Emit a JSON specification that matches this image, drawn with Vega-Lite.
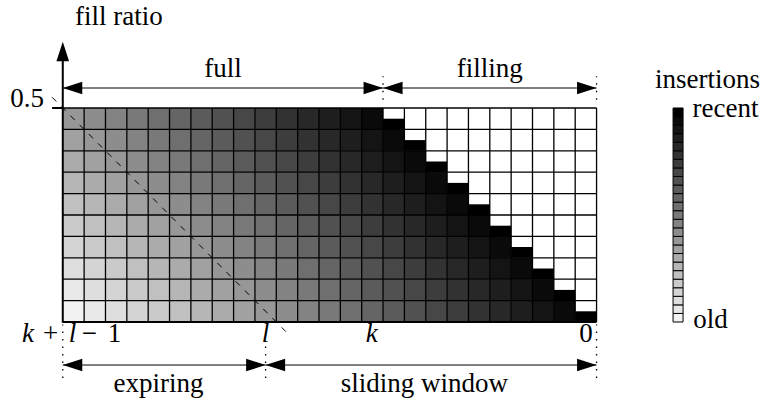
{
"$schema": "https://vega.github.io/schema/vega-lite/v6.json",
"width": 768, "height": 405, "padding": 0,
"autosize": {"type": "fit", "contains": "padding"},
"background": "white",
"config": {"view": {"stroke": null}, "axis": {"disable": true}, "legend": {"disable": true}},
"datasets": {
"cells": [
{"x":25,"x2":24,"y":0,"y2":0.05,"age":0},{"x":24,"x2":23,"y":0,"y2":0.05,"age":1},{"x":23,"x2":22,"y":0,"y2":0.05,"age":2},{"x":22,"x2":21,"y":0,"y2":0.05,"age":3},{"x":21,"x2":20,"y":0,"y2":0.05,"age":4},{"x":20,"x2":19,"y":0,"y2":0.05,"age":5},{"x":19,"x2":18,"y":0,"y2":0.05,"age":6},{"x":18,"x2":17,"y":0,"y2":0.05,"age":7},{"x":17,"x2":16,"y":0,"y2":0.05,"age":8},{"x":16,"x2":15,"y":0,"y2":0.05,"age":9},{"x":15,"x2":14,"y":0,"y2":0.05,"age":10},{"x":14,"x2":13,"y":0,"y2":0.05,"age":11},{"x":13,"x2":12,"y":0,"y2":0.05,"age":12},{"x":12,"x2":11,"y":0,"y2":0.05,"age":13},{"x":11,"x2":10,"y":0,"y2":0.05,"age":14},{"x":10,"x2":9,"y":0,"y2":0.05,"age":15},{"x":9,"x2":8,"y":0,"y2":0.05,"age":16},{"x":8,"x2":7,"y":0,"y2":0.05,"age":17},{"x":7,"x2":6,"y":0,"y2":0.05,"age":18},{"x":6,"x2":5,"y":0,"y2":0.05,"age":19},{"x":5,"x2":4,"y":0,"y2":0.05,"age":20},{"x":4,"x2":3,"y":0,"y2":0.05,"age":21},{"x":3,"x2":2,"y":0,"y2":0.05,"age":22},{"x":2,"x2":1,"y":0,"y2":0.05,"age":23},{"x":1,"x2":0,"y":0,"y2":0.025,"age":24},
{"x":25,"x2":24,"y":0.05,"y2":0.1,"age":1},{"x":24,"x2":23,"y":0.05,"y2":0.1,"age":2},{"x":23,"x2":22,"y":0.05,"y2":0.1,"age":3},{"x":22,"x2":21,"y":0.05,"y2":0.1,"age":4},{"x":21,"x2":20,"y":0.05,"y2":0.1,"age":5},{"x":20,"x2":19,"y":0.05,"y2":0.1,"age":6},{"x":19,"x2":18,"y":0.05,"y2":0.1,"age":7},{"x":18,"x2":17,"y":0.05,"y2":0.1,"age":8},{"x":17,"x2":16,"y":0.05,"y2":0.1,"age":9},{"x":16,"x2":15,"y":0.05,"y2":0.1,"age":10},{"x":15,"x2":14,"y":0.05,"y2":0.1,"age":11},{"x":14,"x2":13,"y":0.05,"y2":0.1,"age":12},{"x":13,"x2":12,"y":0.05,"y2":0.1,"age":13},{"x":12,"x2":11,"y":0.05,"y2":0.1,"age":14},{"x":11,"x2":10,"y":0.05,"y2":0.1,"age":15},{"x":10,"x2":9,"y":0.05,"y2":0.1,"age":16},{"x":9,"x2":8,"y":0.05,"y2":0.1,"age":17},{"x":8,"x2":7,"y":0.05,"y2":0.1,"age":18},{"x":7,"x2":6,"y":0.05,"y2":0.1,"age":19},{"x":6,"x2":5,"y":0.05,"y2":0.1,"age":20},{"x":5,"x2":4,"y":0.05,"y2":0.1,"age":21},{"x":4,"x2":3,"y":0.05,"y2":0.1,"age":22},{"x":3,"x2":2,"y":0.05,"y2":0.1,"age":23},{"x":2,"x2":1,"y":0.05,"y2":0.075,"age":24},
{"x":25,"x2":24,"y":0.1,"y2":0.15,"age":2},{"x":24,"x2":23,"y":0.1,"y2":0.15,"age":3},{"x":23,"x2":22,"y":0.1,"y2":0.15,"age":4},{"x":22,"x2":21,"y":0.1,"y2":0.15,"age":5},{"x":21,"x2":20,"y":0.1,"y2":0.15,"age":6},{"x":20,"x2":19,"y":0.1,"y2":0.15,"age":7},{"x":19,"x2":18,"y":0.1,"y2":0.15,"age":8},{"x":18,"x2":17,"y":0.1,"y2":0.15,"age":9},{"x":17,"x2":16,"y":0.1,"y2":0.15,"age":10},{"x":16,"x2":15,"y":0.1,"y2":0.15,"age":11},{"x":15,"x2":14,"y":0.1,"y2":0.15,"age":12},{"x":14,"x2":13,"y":0.1,"y2":0.15,"age":13},{"x":13,"x2":12,"y":0.1,"y2":0.15,"age":14},{"x":12,"x2":11,"y":0.1,"y2":0.15,"age":15},{"x":11,"x2":10,"y":0.1,"y2":0.15,"age":16},{"x":10,"x2":9,"y":0.1,"y2":0.15,"age":17},{"x":9,"x2":8,"y":0.1,"y2":0.15,"age":18},{"x":8,"x2":7,"y":0.1,"y2":0.15,"age":19},{"x":7,"x2":6,"y":0.1,"y2":0.15,"age":20},{"x":6,"x2":5,"y":0.1,"y2":0.15,"age":21},{"x":5,"x2":4,"y":0.1,"y2":0.15,"age":22},{"x":4,"x2":3,"y":0.1,"y2":0.15,"age":23},{"x":3,"x2":2,"y":0.1,"y2":0.125,"age":24},
{"x":25,"x2":24,"y":0.15,"y2":0.2,"age":3},{"x":24,"x2":23,"y":0.15,"y2":0.2,"age":4},{"x":23,"x2":22,"y":0.15,"y2":0.2,"age":5},{"x":22,"x2":21,"y":0.15,"y2":0.2,"age":6},{"x":21,"x2":20,"y":0.15,"y2":0.2,"age":7},{"x":20,"x2":19,"y":0.15,"y2":0.2,"age":8},{"x":19,"x2":18,"y":0.15,"y2":0.2,"age":9},{"x":18,"x2":17,"y":0.15,"y2":0.2,"age":10},{"x":17,"x2":16,"y":0.15,"y2":0.2,"age":11},{"x":16,"x2":15,"y":0.15,"y2":0.2,"age":12},{"x":15,"x2":14,"y":0.15,"y2":0.2,"age":13},{"x":14,"x2":13,"y":0.15,"y2":0.2,"age":14},{"x":13,"x2":12,"y":0.15,"y2":0.2,"age":15},{"x":12,"x2":11,"y":0.15,"y2":0.2,"age":16},{"x":11,"x2":10,"y":0.15,"y2":0.2,"age":17},{"x":10,"x2":9,"y":0.15,"y2":0.2,"age":18},{"x":9,"x2":8,"y":0.15,"y2":0.2,"age":19},{"x":8,"x2":7,"y":0.15,"y2":0.2,"age":20},{"x":7,"x2":6,"y":0.15,"y2":0.2,"age":21},{"x":6,"x2":5,"y":0.15,"y2":0.2,"age":22},{"x":5,"x2":4,"y":0.15,"y2":0.2,"age":23},{"x":4,"x2":3,"y":0.15,"y2":0.175,"age":24},
{"x":25,"x2":24,"y":0.2,"y2":0.25,"age":4},{"x":24,"x2":23,"y":0.2,"y2":0.25,"age":5},{"x":23,"x2":22,"y":0.2,"y2":0.25,"age":6},{"x":22,"x2":21,"y":0.2,"y2":0.25,"age":7},{"x":21,"x2":20,"y":0.2,"y2":0.25,"age":8},{"x":20,"x2":19,"y":0.2,"y2":0.25,"age":9},{"x":19,"x2":18,"y":0.2,"y2":0.25,"age":10},{"x":18,"x2":17,"y":0.2,"y2":0.25,"age":11},{"x":17,"x2":16,"y":0.2,"y2":0.25,"age":12},{"x":16,"x2":15,"y":0.2,"y2":0.25,"age":13},{"x":15,"x2":14,"y":0.2,"y2":0.25,"age":14},{"x":14,"x2":13,"y":0.2,"y2":0.25,"age":15},{"x":13,"x2":12,"y":0.2,"y2":0.25,"age":16},{"x":12,"x2":11,"y":0.2,"y2":0.25,"age":17},{"x":11,"x2":10,"y":0.2,"y2":0.25,"age":18},{"x":10,"x2":9,"y":0.2,"y2":0.25,"age":19},{"x":9,"x2":8,"y":0.2,"y2":0.25,"age":20},{"x":8,"x2":7,"y":0.2,"y2":0.25,"age":21},{"x":7,"x2":6,"y":0.2,"y2":0.25,"age":22},{"x":6,"x2":5,"y":0.2,"y2":0.25,"age":23},{"x":5,"x2":4,"y":0.2,"y2":0.225,"age":24},
{"x":25,"x2":24,"y":0.25,"y2":0.3,"age":5},{"x":24,"x2":23,"y":0.25,"y2":0.3,"age":6},{"x":23,"x2":22,"y":0.25,"y2":0.3,"age":7},{"x":22,"x2":21,"y":0.25,"y2":0.3,"age":8},{"x":21,"x2":20,"y":0.25,"y2":0.3,"age":9},{"x":20,"x2":19,"y":0.25,"y2":0.3,"age":10},{"x":19,"x2":18,"y":0.25,"y2":0.3,"age":11},{"x":18,"x2":17,"y":0.25,"y2":0.3,"age":12},{"x":17,"x2":16,"y":0.25,"y2":0.3,"age":13},{"x":16,"x2":15,"y":0.25,"y2":0.3,"age":14},{"x":15,"x2":14,"y":0.25,"y2":0.3,"age":15},{"x":14,"x2":13,"y":0.25,"y2":0.3,"age":16},{"x":13,"x2":12,"y":0.25,"y2":0.3,"age":17},{"x":12,"x2":11,"y":0.25,"y2":0.3,"age":18},{"x":11,"x2":10,"y":0.25,"y2":0.3,"age":19},{"x":10,"x2":9,"y":0.25,"y2":0.3,"age":20},{"x":9,"x2":8,"y":0.25,"y2":0.3,"age":21},{"x":8,"x2":7,"y":0.25,"y2":0.3,"age":22},{"x":7,"x2":6,"y":0.25,"y2":0.3,"age":23},{"x":6,"x2":5,"y":0.25,"y2":0.275,"age":24},
{"x":25,"x2":24,"y":0.3,"y2":0.35,"age":6},{"x":24,"x2":23,"y":0.3,"y2":0.35,"age":7},{"x":23,"x2":22,"y":0.3,"y2":0.35,"age":8},{"x":22,"x2":21,"y":0.3,"y2":0.35,"age":9},{"x":21,"x2":20,"y":0.3,"y2":0.35,"age":10},{"x":20,"x2":19,"y":0.3,"y2":0.35,"age":11},{"x":19,"x2":18,"y":0.3,"y2":0.35,"age":12},{"x":18,"x2":17,"y":0.3,"y2":0.35,"age":13},{"x":17,"x2":16,"y":0.3,"y2":0.35,"age":14},{"x":16,"x2":15,"y":0.3,"y2":0.35,"age":15},{"x":15,"x2":14,"y":0.3,"y2":0.35,"age":16},{"x":14,"x2":13,"y":0.3,"y2":0.35,"age":17},{"x":13,"x2":12,"y":0.3,"y2":0.35,"age":18},{"x":12,"x2":11,"y":0.3,"y2":0.35,"age":19},{"x":11,"x2":10,"y":0.3,"y2":0.35,"age":20},{"x":10,"x2":9,"y":0.3,"y2":0.35,"age":21},{"x":9,"x2":8,"y":0.3,"y2":0.35,"age":22},{"x":8,"x2":7,"y":0.3,"y2":0.35,"age":23},{"x":7,"x2":6,"y":0.3,"y2":0.325,"age":24},
{"x":25,"x2":24,"y":0.35,"y2":0.4,"age":7},{"x":24,"x2":23,"y":0.35,"y2":0.4,"age":8},{"x":23,"x2":22,"y":0.35,"y2":0.4,"age":9},{"x":22,"x2":21,"y":0.35,"y2":0.4,"age":10},{"x":21,"x2":20,"y":0.35,"y2":0.4,"age":11},{"x":20,"x2":19,"y":0.35,"y2":0.4,"age":12},{"x":19,"x2":18,"y":0.35,"y2":0.4,"age":13},{"x":18,"x2":17,"y":0.35,"y2":0.4,"age":14},{"x":17,"x2":16,"y":0.35,"y2":0.4,"age":15},{"x":16,"x2":15,"y":0.35,"y2":0.4,"age":16},{"x":15,"x2":14,"y":0.35,"y2":0.4,"age":17},{"x":14,"x2":13,"y":0.35,"y2":0.4,"age":18},{"x":13,"x2":12,"y":0.35,"y2":0.4,"age":19},{"x":12,"x2":11,"y":0.35,"y2":0.4,"age":20},{"x":11,"x2":10,"y":0.35,"y2":0.4,"age":21},{"x":10,"x2":9,"y":0.35,"y2":0.4,"age":22},{"x":9,"x2":8,"y":0.35,"y2":0.4,"age":23},{"x":8,"x2":7,"y":0.35,"y2":0.375,"age":24},
{"x":25,"x2":24,"y":0.4,"y2":0.45,"age":8},{"x":24,"x2":23,"y":0.4,"y2":0.45,"age":9},{"x":23,"x2":22,"y":0.4,"y2":0.45,"age":10},{"x":22,"x2":21,"y":0.4,"y2":0.45,"age":11},{"x":21,"x2":20,"y":0.4,"y2":0.45,"age":12},{"x":20,"x2":19,"y":0.4,"y2":0.45,"age":13},{"x":19,"x2":18,"y":0.4,"y2":0.45,"age":14},{"x":18,"x2":17,"y":0.4,"y2":0.45,"age":15},{"x":17,"x2":16,"y":0.4,"y2":0.45,"age":16},{"x":16,"x2":15,"y":0.4,"y2":0.45,"age":17},{"x":15,"x2":14,"y":0.4,"y2":0.45,"age":18},{"x":14,"x2":13,"y":0.4,"y2":0.45,"age":19},{"x":13,"x2":12,"y":0.4,"y2":0.45,"age":20},{"x":12,"x2":11,"y":0.4,"y2":0.45,"age":21},{"x":11,"x2":10,"y":0.4,"y2":0.45,"age":22},{"x":10,"x2":9,"y":0.4,"y2":0.45,"age":23},{"x":9,"x2":8,"y":0.4,"y2":0.425,"age":24},
{"x":25,"x2":24,"y":0.45,"y2":0.5,"age":9},{"x":24,"x2":23,"y":0.45,"y2":0.5,"age":10},{"x":23,"x2":22,"y":0.45,"y2":0.5,"age":11},{"x":22,"x2":21,"y":0.45,"y2":0.5,"age":12},{"x":21,"x2":20,"y":0.45,"y2":0.5,"age":13},{"x":20,"x2":19,"y":0.45,"y2":0.5,"age":14},{"x":19,"x2":18,"y":0.45,"y2":0.5,"age":15},{"x":18,"x2":17,"y":0.45,"y2":0.5,"age":16},{"x":17,"x2":16,"y":0.45,"y2":0.5,"age":17},{"x":16,"x2":15,"y":0.45,"y2":0.5,"age":18},{"x":15,"x2":14,"y":0.45,"y2":0.5,"age":19},{"x":14,"x2":13,"y":0.45,"y2":0.5,"age":20},{"x":13,"x2":12,"y":0.45,"y2":0.5,"age":21},{"x":12,"x2":11,"y":0.45,"y2":0.5,"age":22},{"x":11,"x2":10,"y":0.45,"y2":0.5,"age":23},{"x":10,"x2":9,"y":0.45,"y2":0.475,"age":24}
],
"legend": [
{"age":0,"y":0,"y2":0.02},{"age":1,"y":0.02,"y2":0.04},{"age":2,"y":0.04,"y2":0.06},{"age":3,"y":0.06,"y2":0.08},{"age":4,"y":0.08,"y2":0.1},{"age":5,"y":0.1,"y2":0.12},{"age":6,"y":0.12,"y2":0.14},{"age":7,"y":0.14,"y2":0.16},{"age":8,"y":0.16,"y2":0.18},{"age":9,"y":0.18,"y2":0.2},{"age":10,"y":0.2,"y2":0.22},{"age":11,"y":0.22,"y2":0.24},{"age":12,"y":0.24,"y2":0.26},{"age":13,"y":0.26,"y2":0.28},{"age":14,"y":0.28,"y2":0.3},{"age":15,"y":0.3,"y2":0.32},{"age":16,"y":0.32,"y2":0.34},{"age":17,"y":0.34,"y2":0.36},{"age":18,"y":0.36,"y2":0.38},{"age":19,"y":0.38,"y2":0.4},{"age":20,"y":0.4,"y2":0.42},{"age":21,"y":0.42,"y2":0.44},{"age":22,"y":0.44,"y2":0.46},{"age":23,"y":0.46,"y2":0.48},{"age":24,"y":0.48,"y2":0.5}
],
"vgrid": [{"x":0},{"x":1},{"x":2},{"x":3},{"x":4},{"x":5},{"x":6},{"x":7},{"x":8},{"x":9},{"x":10},{"x":11},{"x":12},{"x":13},{"x":14},{"x":15},{"x":16},{"x":17},{"x":18},{"x":19},{"x":20},{"x":21},{"x":22},{"x":23},{"x":24}],
"hgrid": [{"y":0.05},{"y":0.1},{"y":0.15},{"y":0.2},{"y":0.25},{"y":0.3},{"y":0.35},{"y":0.4},{"y":0.45},{"y":0.5}],
"diagonal": [{"x":25.5,"x2":14.5,"y":0.525,"y2":-0.025}],
"axes": [{"x":25,"x2":25,"y":-0.002,"y2":0.63},{"x":25,"x2":0,"y":0,"y2":0},{"x":25.5,"x2":25,"y":0.5,"y2":0.5}],
"shafts": [{"x":25,"x2":10,"y":0.5467,"y2":0.5467},{"x":10,"x2":0,"y":0.5467,"y2":0.5467},{"x":25,"x2":15.5,"y":-0.1005,"y2":-0.1005},{"x":15.5,"x2":0,"y":-0.1005,"y2":-0.1005}],
"dotted": [{"x":10,"x2":10,"y":0.519,"y2":0.574},{"x":0,"x2":0,"y":0.519,"y2":0.574},{"x":25,"x2":25,"y":-0.131,"y2":-0.006},{"x":15.5,"x2":15.5,"y":-0.131,"y2":-0.054},{"x":0,"x2":0,"y":-0.131,"y2":-0.006}],
"arrows": [{"x":25,"y":0.655,"dir":"up"},{"x":25,"y":0.5467,"dir":"left"},{"x":10,"y":0.5467,"dir":"right"},{"x":10,"y":0.5467,"dir":"left"},{"x":0,"y":0.5467,"dir":"right"},{"x":25,"y":-0.1005,"dir":"left"},{"x":15.5,"y":-0.1005,"dir":"right"},{"x":15.5,"y":-0.1005,"dir":"left"},{"x":0,"y":-0.1005,"dir":"right"}],
"labels": [
{"text":"fill ratio","x":22.37,"y":0.6939},
{"text":"full","x":17.5,"y":0.5724},
{"text":"filling","x":5.0,"y":0.5724},
{"text":"insertions","x":-5.2,"y":0.5467},
{"text":"recent","x":-6.04,"y":0.479},
{"text":"old","x":-5.34,"y":-0.014},
{"text":"0.5","x":26.67,"y":0.502},
{"text":"+","x":25.57,"y":-0.0467},
{"text":"−","x":23.75,"y":-0.0467},
{"text":"1","x":22.58,"y":-0.0467},
{"text":"0","x":0.49,"y":-0.0467},
{"text":"expiring","x":20.52,"y":-0.1636},
{"text":"sliding window","x":8.06,"y":-0.1636}
],
"vars": [
{"text":"k","x":26.63,"y":-0.0467},
{"text":"l","x":24.54,"y":-0.0467},
{"text":"l","x":15.5,"y":-0.0467},
{"text":"k","x":10.53,"y":-0.0467}
]
},
"layer": [
{"data": {"name": "cells"}, "mark": {"type": "rect"},
 "encoding": {
  "x": {"field": "x", "type": "quantitative", "axis": null, "scale": {"domain": [-8.03, 27.94], "reverse": true, "nice": false, "zero": false}},
  "x2": {"field": "x2"},
  "y": {"field": "y", "type": "quantitative", "axis": null, "scale": {"domain": [-0.1939, 0.7523], "nice": false, "zero": false}},
  "y2": {"field": "y2"},
  "color": {"field": "age", "type": "quantitative", "scale": {"domain": [0, 24], "range": ["#f2f2f2", "#000000"], "interpolate": "rgb"}, "legend": null}
 }},
{"data": {"name": "legend"}, "mark": {"type": "rect", "stroke": "black", "strokeWidth": 1},
 "encoding": {
  "x": {"datum": -3.583, "type": "quantitative", "axis": null},
  "x2": {"datum": -4.052},
  "y": {"field": "y", "type": "quantitative", "axis": null},
  "y2": {"field": "y2"},
  "color": {"field": "age", "type": "quantitative", "legend": null}
 }},
{"data": {"name": "vgrid"}, "mark": {"type": "rule", "color": "black", "strokeWidth": 1.3},
 "encoding": {"x": {"field": "x", "type": "quantitative", "axis": null}, "y": {"datum": 0, "type": "quantitative", "axis": null}, "y2": {"datum": 0.5}}},
{"data": {"name": "hgrid"}, "mark": {"type": "rule", "color": "black", "strokeWidth": 1.3},
 "encoding": {"y": {"field": "y", "type": "quantitative", "axis": null}, "x": {"datum": 25, "type": "quantitative", "axis": null}, "x2": {"datum": 0}}},
{"data": {"name": "diagonal"}, "mark": {"type": "rule", "color": "black", "strokeWidth": 1, "strokeDash": [6, 7]},
 "encoding": {"x": {"field": "x", "type": "quantitative", "axis": null}, "x2": {"field": "x2"}, "y": {"field": "y", "type": "quantitative", "axis": null}, "y2": {"field": "y2"}}},
{"data": {"name": "axes"}, "mark": {"type": "rule", "color": "black", "strokeWidth": 2},
 "encoding": {"x": {"field": "x", "type": "quantitative", "axis": null}, "x2": {"field": "x2"}, "y": {"field": "y", "type": "quantitative", "axis": null}, "y2": {"field": "y2"}}},
{"data": {"name": "shafts"}, "mark": {"type": "rule", "color": "black", "strokeWidth": 1},
 "encoding": {"x": {"field": "x", "type": "quantitative", "axis": null}, "x2": {"field": "x2"}, "y": {"field": "y", "type": "quantitative", "axis": null}, "y2": {"field": "y2"}}},
{"data": {"name": "dotted"}, "mark": {"type": "rule", "color": "black", "strokeWidth": 1.3, "strokeDash": [1.5, 6]},
 "encoding": {"x": {"field": "x", "type": "quantitative", "axis": null}, "x2": {"field": "x2"}, "y": {"field": "y", "type": "quantitative", "axis": null}, "y2": {"field": "y2"}}},
{"data": {"name": "arrows"}, "mark": {"type": "point", "filled": true, "color": "black", "opacity": 1, "size": 380, "strokeWidth": 0},
 "encoding": {"x": {"field": "x", "type": "quantitative", "axis": null}, "y": {"field": "y", "type": "quantitative", "axis": null},
  "shape": {"field": "dir", "type": "nominal", "scale": {"domain": ["up", "left", "right"], "range": ["M0,0L-0.65,2L0.65,2Z", "M0,0L2,-0.65L2,0.65Z", "M0,0L-2,-0.65L-2,0.65Z"]}, "legend": null}}},
{"data": {"name": "labels"}, "mark": {"type": "text", "font": "Liberation Serif", "fontSize": 27, "align": "center", "baseline": "alphabetic", "color": "black"},
 "encoding": {"x": {"field": "x", "type": "quantitative", "axis": null}, "y": {"field": "y", "type": "quantitative", "axis": null}, "text": {"field": "text"}}},
{"data": {"name": "vars"}, "mark": {"type": "text", "font": "Liberation Serif", "fontSize": 27, "fontStyle": "italic", "align": "center", "baseline": "alphabetic", "color": "black"},
 "encoding": {"x": {"field": "x", "type": "quantitative", "axis": null}, "y": {"field": "y", "type": "quantitative", "axis": null}, "text": {"field": "text"}}}
]
}
